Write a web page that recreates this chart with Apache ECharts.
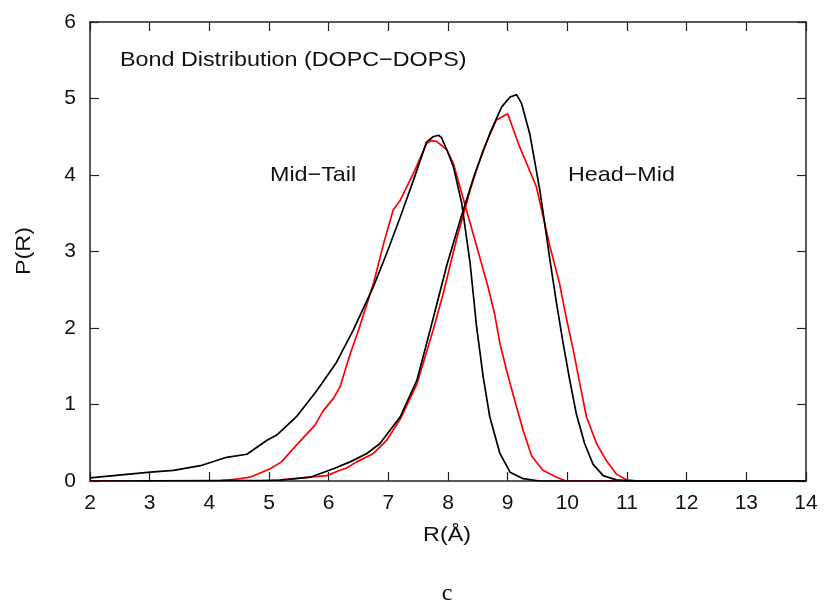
<!DOCTYPE html>
<html>
<head>
<meta charset="utf-8">
<script src="https://cdn.jsdelivr.net/npm/echarts@6/dist/echarts.min.js"></script>
<style>
  html, body { margin: 0; padding: 0; background: #fff; }
  #chart { width: 825px; height: 603px; }
</style>
</head>
<body>
<div id="chart"></div>
<script>
// 坐标轴刻度
const xTicks = [2, 3, 4, 5, 6, 7, 8, 9, 10, 11, 12, 13, 14];
const yTicks = [0, 1, 2, 3, 4, 5, 6];

// Mid-Tail 黑线
const midTailBlackX = [2.0, 3.01, 3.4, 3.85, 4.29, 4.63, 4.96, 5.13, 5.46, 5.8, 6.13, 6.41, 6.75, 6.97, 7.2, 7.42, 7.64, 7.75, 7.84, 7.89, 7.98, 8.09, 8.23, 8.37, 8.48, 8.59, 8.7, 8.87, 9.04, 9.26, 9.54, 14];
const midTailBlackY = [0.04, 0.115, 0.14, 0.20, 0.31, 0.35, 0.53, 0.60, 0.84, 1.18, 1.55, 1.97, 2.54, 2.97, 3.45, 3.93, 4.43, 4.50, 4.52, 4.49, 4.33, 4.11, 3.63, 2.85, 2.01, 1.36, 0.84, 0.36, 0.115, 0.03, 0, 0];

// Mid-Tail 红线
const midTailRedX = [2.0, 3.5, 4.18, 4.41, 4.68, 5.02, 5.21, 5.38, 5.58, 5.77, 5.91, 6.08, 6.19, 6.36, 6.5, 6.75, 6.92, 7.08, 7.2, 7.42, 7.64, 7.72, 7.81, 7.98, 8.09, 8.31, 8.53, 8.67, 8.78, 8.87, 8.98, 9.12, 9.26, 9.4, 9.59, 9.82, 9.98, 14];
const midTailRedY = [0, 0, 0.006, 0.02, 0.05, 0.16, 0.25, 0.40, 0.57, 0.73, 0.92, 1.08, 1.23, 1.66, 1.97, 2.58, 3.10, 3.54, 3.67, 4.02, 4.41, 4.45, 4.44, 4.33, 4.15, 3.54, 2.93, 2.54, 2.19, 1.80, 1.45, 1.05, 0.66, 0.33, 0.14, 0.05, 0, 0];

// Head-Mid 黑线
const headMidBlackX = [2.0, 5.19, 5.69, 6.08, 6.36, 6.64, 6.86, 7.2, 7.48, 7.7, 7.98, 8.22, 8.45, 8.7, 8.9, 9.04, 9.15, 9.23, 9.37, 9.54, 9.71, 9.82, 9.93, 10.04, 10.15, 10.29, 10.43, 10.6, 10.82, 11.1, 14];
const headMidBlackY = [0, 0.01, 0.05, 0.16, 0.25, 0.36, 0.49, 0.84, 1.32, 1.97, 2.82, 3.45, 4.02, 4.54, 4.89, 5.02, 5.05, 4.94, 4.54, 3.80, 2.88, 2.32, 1.80, 1.32, 0.88, 0.49, 0.22, 0.07, 0.015, 0, 0];

// Head-Mid 红线
const headMidRedX = [2.0, 4.8, 5.19, 5.97, 6.19, 6.3, 6.47, 6.75, 6.97, 7.2, 7.48, 7.75, 7.92, 8.14, 8.37, 8.59, 8.81, 9.0, 9.2, 9.48, 9.71, 9.87, 9.98, 10.1, 10.21, 10.32, 10.49, 10.65, 10.82, 10.99, 11.21, 14];
const headMidRedY = [0, 0, 0.015, 0.07, 0.14, 0.17, 0.25, 0.36, 0.53, 0.81, 1.27, 1.97, 2.45, 3.15, 3.80, 4.33, 4.72, 4.80, 4.37, 3.85, 3.06, 2.58, 2.14, 1.71, 1.27, 0.84, 0.49, 0.27, 0.09, 0.015, 0, 0];

const zip = (xs, ys) => xs.map((x, i) => [x, ys[i]]);

const FONT = 'Liberation Sans, Arial, sans-serif';
const frameColor = '#222';

const makeX = (pos, showLabel) => ({
  type: 'value',
  position: pos,
  min: xTicks[0],
  max: xTicks[xTicks.length - 1],
  interval: 1,
  axisLine: { show: true, onZero: false, lineStyle: { color: frameColor, width: 1.5 } },
  axisTick: { show: true, inside: true, length: 9, lineStyle: { color: frameColor, width: 1.2 } },
  axisLabel: { show: showLabel, color: '#111', fontSize: 21, fontFamily: FONT, margin: 12 },
  splitLine: { show: false }
});

const makeY = (pos, showLabel) => ({
  type: 'value',
  position: pos,
  min: yTicks[0],
  max: yTicks[yTicks.length - 1],
  interval: 1,
  axisLine: { show: true, onZero: false, lineStyle: { color: frameColor, width: 1.5 } },
  axisTick: { show: true, inside: true, length: 9, lineStyle: { color: frameColor, width: 1.2 } },
  axisLabel: { show: showLabel, color: '#111', fontSize: 21, fontFamily: FONT, margin: 14 },
  splitLine: { show: false }
});

const lineSeries = (name, data, color) => ({
  name: name,
  type: 'line',
  data: data,
  showSymbol: false,
  smooth: false,
  silent: true,
  lineStyle: { color: color, width: 1.7 },
  z: color === '#000' ? 3 : 2
});

// 文字稍微横向拉伸，贴近原图
const label = (text, x, y, extra) => Object.assign({
  type: 'text', x: x, y: y, scaleX: 1.11,
  style: { text: text, fontSize: 21, fontFamily: FONT, fill: '#111', verticalAlign: 'middle' }
}, extra || {});

const chart = echarts.init(document.getElementById('chart'), null, { renderer: 'canvas' });

chart.setOption({
  animation: false,
  backgroundColor: '#fff',
  grid: { left: 90, right: 19, top: 22, bottom: 122, containLabel: false },
  xAxis: [makeX('bottom', true), makeX('top', false)],
  yAxis: [makeY('left', true), makeY('right', false)],
  series: [
    lineSeries('Mid-Tail 红', zip(midTailRedX, midTailRedY), '#ff0000'),
    lineSeries('Head-Mid 红', zip(headMidRedX, headMidRedY), '#ff0000'),
    lineSeries('Mid-Tail 黑', zip(midTailBlackX, midTailBlackY), '#000'),
    lineSeries('Head-Mid 黑', zip(headMidBlackX, headMidBlackY), '#000')
  ],
  graphic: [
    label('Bond Distribution (DOPC\u2212DOPS)', 120, 60),
    label('Mid\u2212Tail', 270, 175),
    label('Head\u2212Mid', 568, 175),
    { type: 'text', x: 447, y: 535, scaleX: 1.11, style: { text: 'R(\u00c5)', fontSize: 21, fontFamily: FONT, fill: '#111', align: 'center', verticalAlign: 'middle' } },
    { type: 'text', x: 24, y: 251, rotation: Math.PI / 2, scaleX: 1.11, style: { text: 'P(R)', fontSize: 21, fontFamily: FONT, fill: '#111', align: 'center', verticalAlign: 'middle' } },
    { type: 'text', x: 447, y: 594, style: { text: 'c', fontSize: 24, fontFamily: 'Liberation Serif, Times New Roman, serif', fill: '#111', align: 'center', verticalAlign: 'middle' } }
  ]
});
</script>
</body>
</html>
